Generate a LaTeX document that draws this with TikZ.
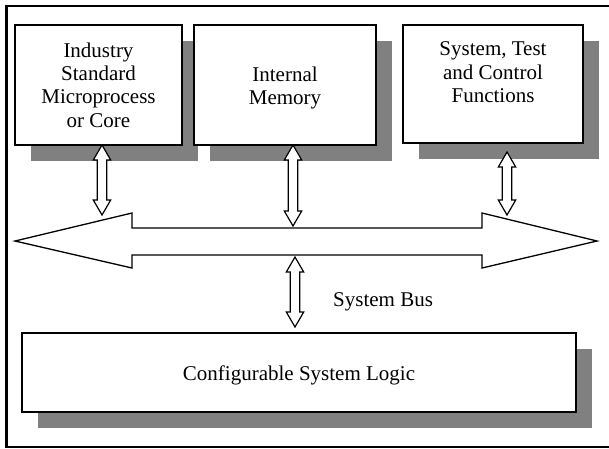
\documentclass[tikz,border=0pt]{standalone}
\usepackage{fontspec}
\setmainfont{Liberation Serif}
\usetikzlibrary{calc,shadows}
\definecolor{shgray}{HTML}{808080}
\newcommand\mybiarrow[2]{\draw[hollow] let \p1=(#1), \p2=(#2) in
  (\x1,\y1) -- (\x1+8.7pt,\y1-15pt) -- (\x1+4.7pt,\y1-15pt) -- (\x1+4.7pt,\y2+15pt)
  -- (\x1+8.7pt,\y2+15pt) -- (\x1,\y2) -- (\x1-8.7pt,\y2+15pt) -- (\x1-4.7pt,\y2+15pt)
  -- (\x1-4.7pt,\y1-15pt) -- (\x1-8.7pt,\y1-15pt) -- cycle;}
\begin{document}
\begin{tikzpicture}[x=1pt,y=-1pt,
  box/.style={draw, line width=1.4pt, fill=white, inner sep=0pt, outer sep=0pt,
    drop shadow={shadow xshift=16pt, shadow yshift=-16pt, fill=shgray, opacity=1}},
  lbl/.style={inner sep=0pt, align=center, font=\fontsize{21}{23.4}\selectfont},
  hollow/.style={draw, fill=white, line width=1.2pt, line join=miter}]
\useasboundingbox (0,0) rectangle (609,448);
% outer frame
\draw[line width=2.8pt] (615,6) -- (6.7,6) -- (6.7,447) -- (615,447);
% boxes
\node[box, minimum width=167pt, minimum height=120pt] (b1) at (98.5,85) {};
\node[box, minimum width=182pt, minimum height=120pt] (b2) at (285,85) {};
\node[box, minimum width=180pt, minimum height=118pt] (b3) at (493,84) {};
\node[box, minimum width=554pt, minimum height=79pt] (b4) at (299,372.5) {};
% texts
\node[lbl, anchor=north] (t1) at (98.5,42.4) {Industry\\Standard\\Microprocess\hspace*{9pt}\\or Core};
\node[lbl, anchor=north] (t2) at (285,66.4) {Internal\\Memory};
\node[lbl, anchor=north] (t3) at (493,41.8) {System, Test\\and Control\\Functions};
\node[lbl, anchor=base] (t4) at (299,380) {Configurable System Logic};
\node[lbl, anchor=base west] (t5) at (333,306.7) {System Bus};
% system bus (big double arrow)
\draw[hollow, line width=1.3pt] (15,241) -- (132,213) -- (132,228) -- (482,228) -- (482,213)
  -- (597,241) -- (482,268) -- (482,255) -- (132,255) -- (132,268) -- cycle;
% connector coordinates
\coordinate (x1) at (102,0);
\coordinate (x2) at (293,0);
\coordinate (e1) at (102,215);
\coordinate (e2) at (293,226);
\coordinate (s3) at (507,152);
\coordinate (e3) at (507,215);
\coordinate (s4) at (295,257);
\coordinate (e4) at (295,327);
% connectors
\mybiarrow{b1.south -| x1}{e1}
\mybiarrow{b2.south -| x2}{e2}
\mybiarrow{s3}{e3}
\mybiarrow{s4}{e4}
\end{tikzpicture}
\end{document}
